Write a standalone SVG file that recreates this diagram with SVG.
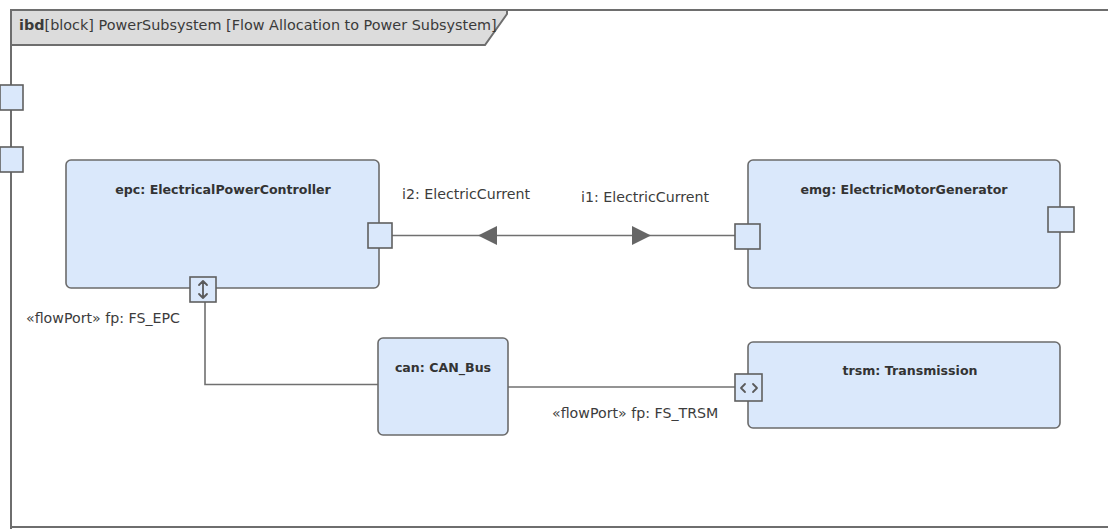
<svg xmlns="http://www.w3.org/2000/svg" width="1108" height="529" viewBox="0 0 1108 529">
<defs>
<style>
.frame{fill:none;stroke:#6e6e6e;stroke-width:2}
.hdr{fill:#dcdcdc;stroke:#6e6e6e;stroke-width:2}
.blk{fill:#dae8fb;stroke:#6b6b6b;stroke-width:1.6}
.port{fill:#dae8fb;stroke:#5f5f5f;stroke-width:1.6}
.conn{fill:none;stroke:#707070;stroke-width:1.6}
.icon{fill:none;stroke:#5a5a5a;stroke-width:1.8;stroke-linecap:round;stroke-linejoin:round}
.t{font-family:"DejaVu Sans",sans-serif;font-size:14.2px;fill:#3c3c3c}
.tb{font-family:"DejaVu Sans",sans-serif;font-size:12.6px;font-weight:bold;fill:#333;text-anchor:middle}
.th{font-family:"DejaVu Sans",sans-serif;font-size:14.4px;fill:#3a3a3a}
</style>
</defs>
<rect x="0" y="0" width="1108" height="529" fill="#fff"/>
<g id="frame">
<path class="frame" d="M11,529 V10 H1108"/>
<line class="frame" x1="11" y1="527" x2="1108" y2="527" stroke-width="1.5"/>
<path class="hdr" d="M11,10 H507 V14 L485,45 H11 Z"/>
<text class="th" x="19" y="30"><tspan font-weight="bold">ibd</tspan>[block] PowerSubsystem [Flow Allocation to Power Subsystem]</text>
<rect class="port" x="0" y="85" width="23" height="25"/>
<rect class="port" x="0" y="147" width="23" height="25"/>
</g>
<g id="connectors">
<line class="conn" x1="392" y1="235.5" x2="735" y2="235.5"/>
<path d="M478,235.5 L497,226 L497,245 Z" fill="#666"/>
<path d="M651,235.5 L632,226 L632,245 Z" fill="#666"/>
<path class="conn" d="M205,302 V384.5 H378"/>
<line class="conn" x1="508" y1="387" x2="735" y2="387"/>
<text class="t" x="402" y="199">i2: ElectricCurrent</text>
<text class="t" x="581" y="202">i1: ElectricCurrent</text>
<text class="t" x="26" y="323">«flowPort» fp: FS_EPC</text>
<text class="t" x="552" y="418">«flowPort» fp: FS_TRSM</text>
</g>
<g id="epc">
<rect class="blk" x="66" y="160" width="313" height="128" rx="5"/>
<text class="tb" x="223" y="194">epc: ElectricalPowerController</text>
<rect class="port" x="368" y="223" width="24" height="25"/>
<rect class="port" x="190" y="277" width="26" height="25"/>
<path class="icon" d="M199,285 L203,281 L207,285 M203,281 V298 M199,294 L203,298 L207,294"/>
</g>
<g id="emg">
<rect class="blk" x="748" y="160" width="312" height="128" rx="5"/>
<text class="tb" x="904" y="194">emg: ElectricMotorGenerator</text>
<rect class="port" x="735" y="224" width="25" height="25"/>
<rect class="port" x="1048" y="207" width="26" height="25"/>
</g>
<g id="can">
<rect class="blk" x="378" y="338" width="130" height="97" rx="5"/>
<text class="tb" x="443" y="372">can: CAN_Bus</text>
</g>
<g id="trsm">
<rect class="blk" x="748" y="342" width="312" height="86" rx="5"/>
<text class="tb" x="910" y="375">trsm: Transmission</text>
<rect class="port" x="735" y="374" width="27" height="27"/>
<path class="icon" d="M745,384 L741,388 L745,392 M753,384 L757,388 L753,392"/>
</g>
</svg>
